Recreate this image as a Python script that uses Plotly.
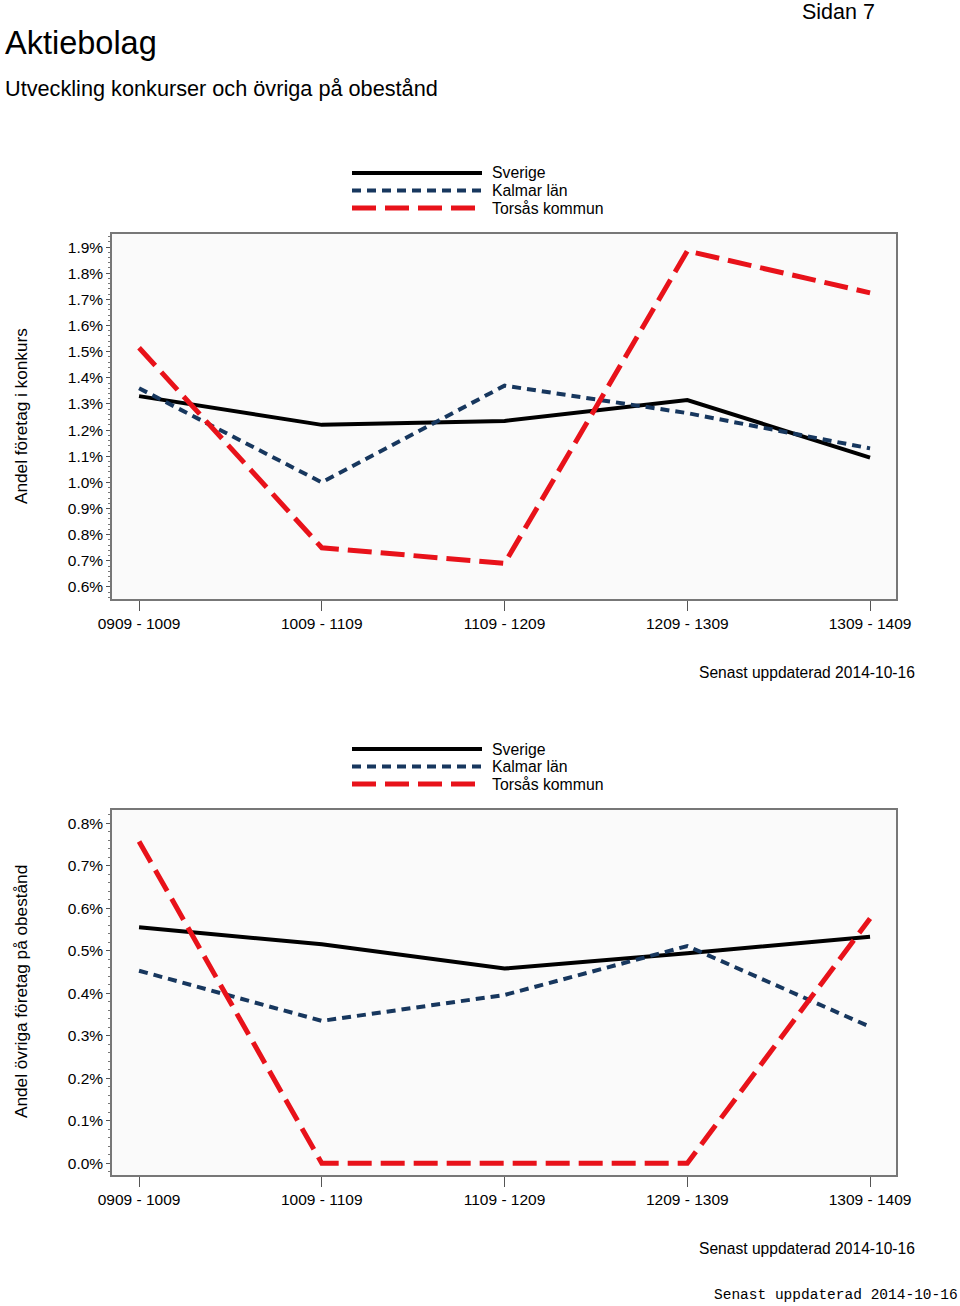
import plotly.graph_objects as go

categories = ["0909 - 1009", "1009 - 1109", "1109 - 1209", "1209 - 1309", "1309 - 1409"]
series_names = ["Sverige", "Kalmar län", "Torsås kommun"]

konkurs_sverige = [1.33, 1.22, 1.235, 1.315, 1.095]
konkurs_kalmar = [1.36, 1.00, 1.37, 1.265, 1.13]
konkurs_torsas = [1.515, 0.75, 0.69, 1.885, 1.725]

obestand_sverige = [0.555, 0.515, 0.458, 0.494, 0.533]
obestand_kalmar = [0.453, 0.335, 0.396, 0.511, 0.321]
obestand_torsas = [0.757, 0.0, 0.0, 0.0, 0.576]

y1_ticks = [0.6, 0.7, 0.8, 0.9, 1.0, 1.1, 1.2, 1.3, 1.4, 1.5, 1.6, 1.7, 1.8, 1.9]
y2_ticks = [0.0, 0.1, 0.2, 0.3, 0.4, 0.5, 0.6, 0.7, 0.8]

W, H = 960, 1306
FONT = "Liberation Sans, Arial, sans-serif"

styles = [
    dict(color="#000000", width=4, dash="solid"),
    dict(color="#17375e", width=4, dash="9px,6px"),
    dict(color="#e8121a", width=5, dash="24px,9px"),
]

def px_x(x):
    return x / W

def px_y(y):
    return 1 - y / H

fig = go.Figure()
xpos = list(range(len(categories)))

for vals, st, nm in zip([konkurs_sverige, konkurs_kalmar, konkurs_torsas], styles, series_names):
    fig.add_trace(go.Scatter(x=xpos, y=vals, mode="lines", name=nm, line=st,
                             showlegend=False, xaxis="x", yaxis="y"))
for vals, st, nm in zip([obestand_sverige, obestand_kalmar, obestand_torsas], styles, series_names):
    fig.add_trace(go.Scatter(x=xpos, y=vals, mode="lines", name=nm, line=st,
                             showlegend=False, xaxis="x2", yaxis="y2"))

xdom = [px_x(112), px_x(896)]
common_x = dict(
    range=[-0.148, 4.142], tickmode="array", tickvals=xpos, ticktext=categories,
    ticks="outside", ticklen=10, tickcolor="#555", showgrid=False, zeroline=False,
    showline=True, linecolor="#777", linewidth=1.5, mirror=True, automargin=False,
    tickfont=dict(family=FONT, size=15.5, color="#000"), domain=xdom,
)
common_y = dict(
    ticks="outside", ticklen=4, tickcolor="#555", showgrid=False, zeroline=False,
    showline=True, linecolor="#777", linewidth=1.5, mirror=True, automargin=False,
    tickfont=dict(family=FONT, size=15.5, color="#000"), tickmode="array",
)

fig.update_layout(
    template="none",
    width=W, height=H, margin=dict(l=0, r=0, t=0, b=0, pad=0),
    paper_bgcolor="white", plot_bgcolor="#fafafa",
    font=dict(family=FONT, color="#000"),
    xaxis=dict(common_x, anchor="y"),
    yaxis=dict(common_y, range=[0.554, 1.95], tickvals=y1_ticks,
               ticktext=[f"{v:.1f}%" for v in y1_ticks], anchor="x",
               domain=[px_y(599), px_y(234)],
               minor=dict(ticks="outside", ticklen=2, dtick=0.02, tickcolor="#777")),
    xaxis2=dict(common_x, anchor="y2"),
    yaxis2=dict(common_y, range=[-0.0275, 0.831], tickvals=y2_ticks,
                ticktext=[f"{v:.1f}%" for v in y2_ticks], anchor="x2",
                domain=[px_y(1175), px_y(810)],
                minor=dict(ticks="outside", ticklen=2, dtick=0.02, tickcolor="#777")),
)

annotations = [
    dict(text="Sidan 7", x=px_x(877), y=px_y(12), xanchor="right", yanchor="middle",
         font=dict(size=21.5)),
    dict(text="Aktiebolag", x=px_x(3), y=px_y(43), xanchor="left", yanchor="middle",
         font=dict(size=32.5)),
    dict(text="Utveckling konkurser och övriga på obestånd", x=px_x(3), y=px_y(88),
         xanchor="left", yanchor="middle", font=dict(size=21.7)),
    dict(text="Andel företag i konkurs", x=px_x(21), y=px_y(416), textangle=-90,
         xanchor="center", yanchor="middle", font=dict(size=17.2)),
    dict(text="Andel övriga företag på obestånd", x=px_x(21), y=px_y(992), textangle=-90,
         xanchor="center", yanchor="middle", font=dict(size=17.2)),
    dict(text="Senast uppdaterad 2014-10-16", x=px_x(917), y=px_y(672), xanchor="right",
         yanchor="middle", font=dict(size=15.6)),
    dict(text="Senast uppdaterad 2014-10-16", x=px_x(917), y=px_y(1248), xanchor="right",
         yanchor="middle", font=dict(size=15.6)),
    dict(text="Senast uppdaterad 2014-10-16", x=px_x(960), y=px_y(1295), xanchor="right",
         yanchor="middle", font=dict(size=14.5, family="Liberation Mono, Courier New, monospace")),
]

shapes = []
for base in [173, 749]:
    for i, (st, nm) in enumerate(zip(styles, series_names)):
        yy = base + i * 17.5
        shapes.append(dict(type="line", xref="paper", yref="paper",
                           x0=px_x(352), x1=px_x(482), y0=px_y(yy), y1=px_y(yy),
                           line=dict(color=st["color"], width=st["width"], dash=st["dash"])))
        annotations.append(dict(text=nm, x=px_x(490), y=px_y(yy), xanchor="left",
                                yanchor="middle", font=dict(size=15.8)))

for a in annotations:
    a.update(xref="paper", yref="paper", showarrow=False)

fig.update_layout(annotations=annotations, shapes=shapes)
fig.write_html("out.html", config={"displayModeBar": False},
               post_script="document.body.style.margin='0';document.body.style.overflow='hidden';")
